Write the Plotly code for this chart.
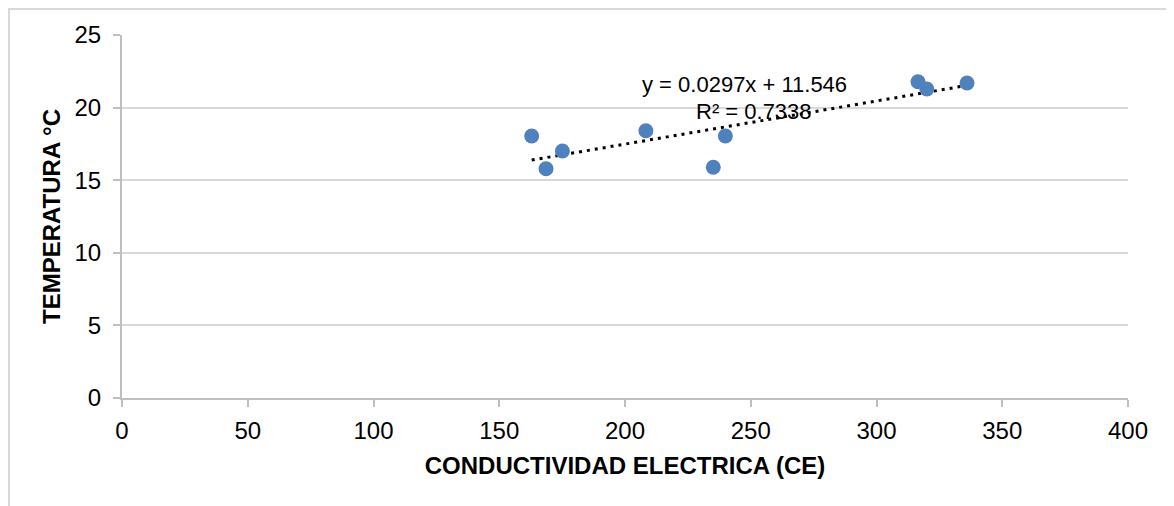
import plotly.graph_objects as go

# Data
ce = [162.9, 168.6, 175.1, 208.3, 235.1, 239.9, 316.5, 320.0, 336.0]
temp = [18.04, 15.79, 17.01, 18.41, 15.89, 18.04, 21.78, 21.28, 21.69]

# Trend line (as printed on the chart)
slope = 0.0297
intercept = 11.546
r2 = 0.7338

x_ticks = [0, 50, 100, 150, 200, 250, 300, 350, 400]
y_ticks = [0, 5, 10, 15, 20, 25]

trend_x = [min(ce), max(ce)]
trend_y = [slope * v + intercept for v in trend_x]

FONT = "Liberation Sans, Arial, sans-serif"

fig = go.Figure()
fig.add_trace(go.Scatter(
    x=trend_x, y=trend_y, mode="lines",
    line=dict(color="black", width=3, dash="3px,5px"),
    hoverinfo="skip", showlegend=False,
))
fig.add_trace(go.Scatter(
    x=ce, y=temp, mode="markers",
    marker=dict(color="#4F81BD", size=15, line=dict(width=0)),
    showlegend=False,
))

fig.add_annotation(x=247.5, y=21.56, xref="x", yref="y",
                   text=f"y = {slope}x + {intercept}", showarrow=False,
                   font=dict(family=FONT, size=22, color="#000000"))
fig.add_annotation(x=251.3, y=19.70, xref="x", yref="y",
                   text=f"R² = {r2}", showarrow=False,
                   font=dict(family=FONT, size=22, color="#000000"))

# outer chart border (top and left visible)
fig.add_shape(type="rect", xref="paper", yref="paper",
              x0=-0.1123, x1=1.2, y0=-0.6, y1=1.0716,
              line=dict(color="#D9D9D9", width=2), layer="below")

fig.update_layout(
    width=1166, height=498,
    margin=dict(l=114, r=46, t=27, b=108, autoexpand=False),
    paper_bgcolor="white", plot_bgcolor="white",
    font=dict(family=FONT, color="#000000"),
    xaxis=dict(
        range=[0, 400], tickvals=x_ticks, showgrid=False, zeroline=False,
        showline=True, linecolor="#BFBFBF", linewidth=2,
        ticks="outside", ticklen=7, tickcolor="#BFBFBF", tickwidth=2,
        tickfont=dict(family=FONT, size=24, color="#000000"),
        ticklabelstandoff=3,
        title=dict(text="<b>CONDUCTIVIDAD ELECTRICA (CE)</b>",
                   font=dict(family=FONT, size=24, color="#000000"), standoff=14),
    ),
    yaxis=dict(
        range=[0, 25], tickvals=y_ticks, showgrid=True, gridcolor="#D9D9D9", gridwidth=1.5,
        zeroline=False, showline=True, linecolor="#BFBFBF", linewidth=2,
        ticks="outside", ticklen=7, tickcolor="#BFBFBF", tickwidth=2,
        tickfont=dict(family=FONT, size=24, color="#000000"),
        ticklabelstandoff=7,
        title=dict(text="<b>TEMPERATURA °C</b>",
                   font=dict(family=FONT, size=24, color="#000000"), standoff=7),
    ),
)

fig.write_html("out.html")
